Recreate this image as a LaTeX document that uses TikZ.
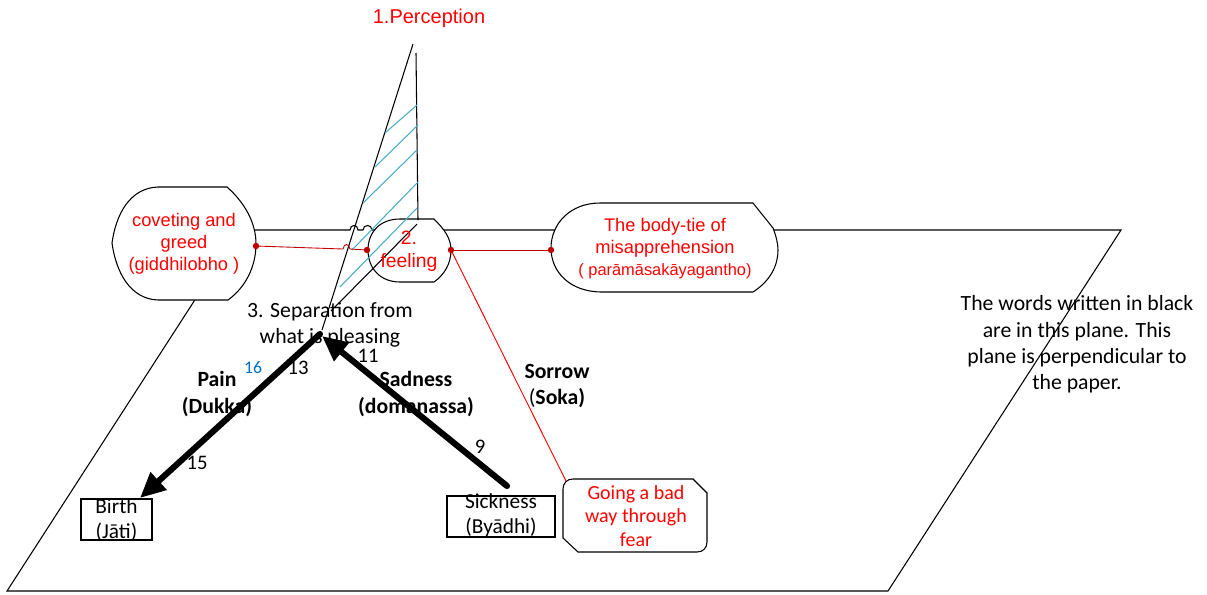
\documentclass[tikz,border=0pt]{standalone}
\usepackage{fontspec}
\setmainfont{Carlito}
\newfontfamily\arialf{Liberation Sans}
\usetikzlibrary{arrows.meta}
\definecolor{darkred}{RGB}{192,0,0}
\definecolor{hatchblue}{RGB}{75,172,198}
\definecolor{numblue}{RGB}{0,112,192}
\begin{document}
\begin{tikzpicture}[x=0.75pt,y=-0.75pt,
  edge/.style={line width=0.8pt, draw=black},
  shapebox/.style={edge, fill=white},
  hatchline/.style={line width=0.8pt, draw=hatchblue},
  redlink/.style={line width=0.65pt, draw=darkred},
  dot/.style={fill=darkred},
  bigarrow/.style={line width=4.6pt, line cap=round, -{Triangle[length=19pt,width=17pt]}},
  blacktxt/.style={inner sep=0pt, align=center, font=\fontsize{16.3}{19.6}\selectfont},
  boldtxt/.style={inner sep=0pt, align=center, font=\fontsize{16.3}{19.6}\selectfont\bfseries},
  numtxt/.style={inner sep=0pt, font=\fontsize{15.5}{18}\selectfont},
  redarial/.style={inner sep=0pt, align=center, text=red, font=\arialf\fontsize{13.7}{16.6}\selectfont},
  redcal/.style={inner sep=0pt, align=center, text=red, font=\fontsize{15}{17.6}\selectfont}
]
\useasboundingbox (0,0) rectangle (1207,594);

% the plane
\draw[edge] (240,230) -- (350,230) .. controls (350,224) and (358,224) .. (358,230) -- (363,230) .. controls (363,224) and (372,224) .. (372,230) -- (1121,230) -- (888,591) -- (7,591) -- cycle;

% node shapes
\draw[shapebox] (112,243) .. controls (116,214) and (130,188) .. (158,187) -- (227,187) .. controls (244,202) and (256,222) .. (256,244) .. controls (256,266) and (246,287) .. (228,300) -- (158,300) .. controls (130,299) and (116,272) .. (112,243) -- cycle;
\draw[shapebox] (400,219) -- (434,219) .. controls (444,229) and (451,238) .. (451,250) .. controls (451,264) and (444,275) .. (434,282) -- (400,282) .. controls (380,282) and (368,268) .. (368,250) .. controls (368,232) and (380,219) .. (400,219) -- cycle;
\draw[shapebox] (600,203) -- (753,203) -- (773,228) .. controls (776,236) and (778,243) .. (778,250) .. controls (778,266) and (770,281) .. (753,292) -- (602,292) .. controls (570,292) and (551,272) .. (551,248) .. controls (551,224) and (570,203) .. (600,203) -- cycle;
\draw[shapebox] (573,479) -- (693,479) -- (707,493) -- (707,542) .. controls (707,548) and (703,552) .. (697,552) -- (578,552) -- (563,538) -- (563,489) .. controls (563,483) and (567,479) .. (573,479) -- cycle;

% perception plane (triangle) and hatching
\draw[edge] (413,44) -- (322,330);
\draw[edge] (416,53) -- (418,220);
\draw[edge] (417,224) -- (331,311);
\draw[hatchline] (385,133) -- (417,105);
\draw[hatchline] (375,167) -- (418,125);
\draw[hatchline] (363,203) -- (417,150);
\draw[hatchline] (352,250) -- (418,182);
\draw[hatchline] (340,287) -- (417,208);

% boxes
\node[draw, line width=2pt, minimum width=53.25pt, minimum height=30.75pt, inner sep=0pt] (birth) at (116.5,519.5) {};
\node[draw, line width=1pt, minimum width=81pt, minimum height=30.75pt, inner sep=0pt] (sick) at (501,516.5) {};

% connector points
\coordinate (dl1) at (256,246);
\coordinate (dl2) at (367,250);
\coordinate (dr1) at (451,250);
\coordinate (dr2) at (551,250);
\coordinate (gotop) at (566,481);
\coordinate (apexA) at (320,334);
\coordinate (apexB) at (322,336);
\coordinate (birthtip) at (140,498);
\coordinate (sickstart) at (507,486);

% red links
\draw[redlink] (dl1) -- (343,249) .. controls (344,243) and (349,243) .. (350,249) -- (dl2);
\draw[redlink] (dr1) -- (dr2);
\draw[line width=0.7pt, draw=red] (dr1) -- (gotop);
\foreach \p in {dl1,dl2,dr1,dr2} \fill[dot] (\p) circle (2.4pt);

% arrows
\draw[bigarrow] (apexA) -- (birthtip);
\draw[bigarrow] (sickstart) -- (apexB);

% texts
\node[redarial, font=\arialf\fontsize{15}{18}\selectfont] (perc) at (429,18) {1.Perception};
\node[redarial] (cov) at (184,244) {coveting and\\greed\\(giddhilobho )};
\node[redarial, font=\arialf\fontsize{14.5}{17}\selectfont] (feel) at (409,251) {2.\\feeling};
\node[redarial] (body) at (665,237.5) {The body-tie of\\misapprehension};
\node[redarial, font=\arialf\fontsize{12.3}{15}\selectfont] (bodysub) at (665,271) {( parāmāsakāyagantho)};
\node[redcal] (gotxt) at (636,516) {Going a bad\\way through\\fear};
\node[blacktxt] (sep) at (330,325) {3. Separation from\\what is pleasing};
\node[boldtxt] (pain) at (217,394) {Pain\\(Dukka)};
\node[boldtxt] (sad) at (416,394) {Sadness\\(domanassa)};
\node[boldtxt] (sorrow) at (557,386) {Sorrow\\{\mdseries(}Soka)};
\node[numtxt, text=numblue, font=\fontsize{13.3}{16}\selectfont] (n16) at (253,368) {16};
\node[numtxt] (n13) at (298,368) {13};
\node[numtxt] (n11) at (368,356) {11};
\node[numtxt] (n9) at (480,447) {9};
\node[numtxt] (n15) at (197,463) {15};
\node[blacktxt, font=\fontsize{16.3}{19.7}\selectfont] (note) at (1077,344.5) {The words written in black\\are in this plane. This\\plane is perpendicular to\\the paper.};
\node[blacktxt, font=\fontsize{16}{18.8}\selectfont] (birthtxt) at (116.5,520) {Birth\\(Jāti)};
\node[blacktxt, font=\fontsize{16}{18.8}\selectfont] (sicktxt) at (501,515.5) {Sickness\\(Byādhi)};
\end{tikzpicture}
\end{document}
